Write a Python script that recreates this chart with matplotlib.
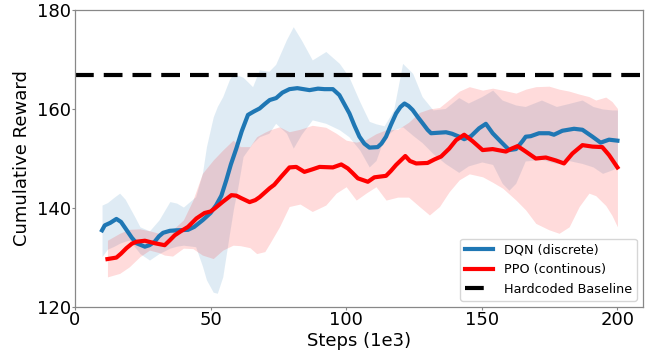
import matplotlib
matplotlib.use("Agg")
import matplotlib.pyplot as plt

# ---- DQN mean line ----
dqn_x = [10, 11, 13, 15.3, 17, 19, 21, 22.7, 25.8, 27.5, 29.4, 31, 32.5, 35, 37.4, 41.7, 44, 47.2, 50,
         52.1, 54, 55.8, 57.5, 59.5, 61.5, 63.8, 66, 68.1, 70, 71.8, 74.2, 76.5, 79.1, 82, 86.5, 89.6, 92,
         95.1, 97.5, 99.5, 101.2, 103, 104.9, 106.7, 108.6, 111.6, 113, 114.7, 116.5, 118.4, 120, 121.5,
         123, 124.5, 126.5, 128.2, 130, 131.3, 134, 136.8, 139, 141.7, 143.5, 146, 149, 151.5, 154, 157,
         160.1, 162.6, 165, 166.2, 168, 171.1, 174.8, 176.6, 179.7, 184, 187.1, 190.8, 193.8, 196.9, 200]
dqn_y = [135.5, 136.5, 137.0, 137.8, 137.2, 135.6, 134.0, 132.9, 132.2, 132.5, 133.2, 134.3, 135.0, 135.4,
         135.5, 135.6, 136.2, 137.6, 139.0, 140.6, 142.5, 145.6, 148.8, 152.0, 155.5, 158.8, 159.5, 160.1,
         161.0, 161.8, 162.2, 163.3, 164.0, 164.2, 163.8, 164.1, 164.0, 164.0, 162.8, 160.8, 159.1, 156.7,
         154.4, 153.0, 152.2, 152.3, 153.0, 154.4, 156.8, 159.1, 160.4, 161.1, 160.6, 159.8, 158.3, 157.1,
         155.8, 155.1, 155.2, 155.3, 155.0, 154.4, 153.9, 154.5, 156.1, 157.0, 155.1, 153.4, 151.7, 151.9,
         153.5, 154.4, 154.5, 155.1, 155.1, 154.8, 155.6, 156.0, 155.8, 154.4, 153.2, 153.8, 153.6]

# ---- DQN band ----
dqn_band_x = [10, 12, 14.5, 16.5, 18.5, 20, 22, 24, 27.5, 31, 35, 37.5, 40, 44.5, 47, 48.5, 51, 52.5, 54.5,
              57, 58.5, 60, 62, 65.5, 68, 71.5, 74, 78, 80.5, 83.5, 87.5, 92.5, 97.5, 101, 105, 108.5, 111,
              114, 117.5, 120.8, 124.5, 128, 132, 136.5, 141.5, 145, 150, 154, 157.5, 160, 162.5, 166, 172,
              177.5, 182, 187, 191, 194.5, 198, 200]
dqn_upper = [140.6, 141.1, 142.2, 143.0, 141.8, 140.3, 138.3, 136.2, 135.4, 137.6, 141.3, 141.0, 140.2,
             142.3, 147.0, 152.4, 158.4, 160.5, 162.5, 166.0, 167.2, 166.8, 166.4, 164.5, 167.9, 167.6,
             169.0, 174.0, 176.6, 173.9, 169.9, 171.6, 169.2, 166.5, 161.5, 157.5, 157.0, 156.6, 159.8,
             169.2, 167.2, 162.5, 159.8, 160.1, 162.3, 161.2, 162.5, 163.8, 161.8, 161.3, 160.8, 160.5,
             161.8, 160.5, 161.1, 161.8, 160.5, 160.0, 159.8, 159.8]
dqn_lower = [130.2, 131.7, 132.3, 132.9, 133.3, 133.5, 132.2, 130.8, 129.5, 130.8, 131.9, 132.3, 132.5,
             132.2, 128.3, 125.5, 123.0, 122.8, 126.1, 134.9, 140.0, 144.0, 150.4, 153.1, 154.4, 155.1,
             157.1, 155.1, 152.1, 154.9, 157.8, 157.1, 155.8, 154.4, 151.7, 148.3, 149.6, 154.2, 155.8,
             156.4, 154.7, 153.2, 151.0, 149.0, 147.2, 148.5, 149.3, 148.8, 145.0, 143.6, 145.0, 149.5,
             149.8, 149.0, 149.6, 149.0, 148.3, 147.0, 147.7, 148.3]

# ---- PPO mean line ----
ppo_x = [12, 15.3, 17, 19, 21, 22.7, 25.8, 29.4, 33.1, 35, 36.8, 39, 41.7, 44.8, 47.8, 50, 51.5, 54.6, 57.7,
         59.5, 61.3, 64.4, 66.5, 68.1, 71.8, 73.5, 76, 79.1, 81.6, 84.6, 87.5, 90.2, 95.1, 98.2, 100.6,
         102.5, 104.3, 108, 110.4, 114.7, 116.5, 118.4, 121.8, 123.5, 125.8, 130, 132.5, 135, 138, 140.5,
         143.5, 146.6, 150.3, 154, 158.9, 161, 163.2, 166.2, 169.9, 173.6, 177.3, 180.3, 183.4, 187.1,
         190.8, 194.4, 196.9, 200]
ppo_y = [129.7, 130.0, 130.8, 131.9, 132.8, 133.2, 133.4, 132.9, 132.5, 133.5, 134.5, 135.3, 136.2, 137.9,
         139.0, 139.3, 139.9, 141.3, 142.6, 142.5, 142.0, 141.2, 141.6, 142.2, 144.0, 144.7, 146.3, 148.2,
         148.3, 147.3, 147.8, 148.3, 148.2, 148.8, 148.0, 147.0, 146.0, 145.3, 146.2, 146.5, 147.5, 148.7,
         150.5, 149.5, 149.0, 149.1, 149.8, 150.4, 152.0, 153.7, 154.8, 153.5, 151.7, 151.9, 151.4, 152.0,
         152.5, 151.4, 150.0, 150.2, 149.6, 149.0, 151.0, 152.7, 152.4, 152.3, 150.7, 148.2]

# ---- PPO band ----
ppo_band_x = [12, 16.5, 20, 24, 27.5, 31, 33, 36, 40, 43.5, 47, 51, 54.5, 58.3, 61, 64.5, 67, 70, 72, 75.4,
              79, 83, 87.5, 92.5, 96.3, 100, 103.7, 107.3, 111, 114.7, 119, 123, 127, 130.7, 134.4, 138,
              141.7, 145.4, 150.3, 154, 157.7, 162.6, 166.2, 169.9, 174.8, 178.5, 182.2, 185.9, 189.5, 192,
              195.7, 198, 200]
ppo_upper = [133.5, 134.9, 135.7, 135.8, 135.4, 134.9, 135.0, 135.6, 137.6, 141.6, 147.0, 149.7, 151.7,
             153.7, 152.4, 152.4, 154.4, 155.3, 155.8, 156.4, 155.4, 155.9, 156.7, 156.3, 155.1, 153.7,
             153.3, 153.8, 155.0, 155.8, 155.9, 157.3, 159.3, 160.0, 160.3, 161.9, 163.6, 164.5, 163.8,
             164.2, 163.8, 163.2, 164.0, 164.5, 164.6, 164.0, 163.6, 163.0, 162.5, 161.8, 162.4, 161.5,
             160.1]
ppo_lower = [126.1, 126.8, 128.1, 130.2, 131.5, 131.0, 130.5, 130.3, 131.9, 131.8, 130.5, 129.8, 131.5,
             132.5, 132.4, 132.0, 130.8, 131.2, 133.0, 136.2, 140.3, 140.8, 139.3, 140.6, 143.0, 144.3,
             141.6, 143.0, 144.3, 141.6, 142.2, 142.2, 140.3, 138.6, 140.3, 143.3, 145.7, 146.9, 146.3,
             145.2, 144.0, 141.6, 139.6, 136.9, 135.6, 134.9, 136.2, 140.3, 143.0, 142.5, 140.5, 138.5,
             136.2]

baseline = 166.8
x_ticks = [0, 50, 100, 150, 200]
y_ticks = [120, 140, 160, 180]

fig = plt.figure(figsize=(6.57, 3.53), dpi=100)
ax = fig.add_axes([0.114, 0.130, 0.865, 0.842])

ax.fill_between(dqn_band_x, dqn_lower, dqn_upper, color="#1f77b4", alpha=0.14, linewidth=0)
ax.fill_between(ppo_band_x, ppo_lower, ppo_upper, color="red", alpha=0.14, linewidth=0)
ax.plot(dqn_x, dqn_y, color="#1f77b4", lw=3, label="DQN (discrete)")
ax.plot(ppo_x, ppo_y, color="red", lw=3, label="PPO (continous)")
ax.axhline(baseline, color="black", lw=3, ls=(0, (4.5, 2.4)), label="Hardcoded Baseline")

ax.set_xlim(0, 209.5)
ax.set_ylim(120, 180)
ax.set_xticks(x_ticks)
ax.set_yticks(y_ticks)
ax.tick_params(labelsize=13, length=2, pad=1, color="#888888")
for s in ax.spines.values():
    s.set_color("#888888")
    s.set_linewidth(0.9)
ax.set_xlabel("Steps (1e3)", fontsize=13, labelpad=2)
ax.set_ylabel("Cumulative Reward", fontsize=13, labelpad=4)
ax.legend(loc="lower right", fontsize=9.2, handlelength=2.2, framealpha=0.8)

fig.savefig("out.png", dpi=100)
